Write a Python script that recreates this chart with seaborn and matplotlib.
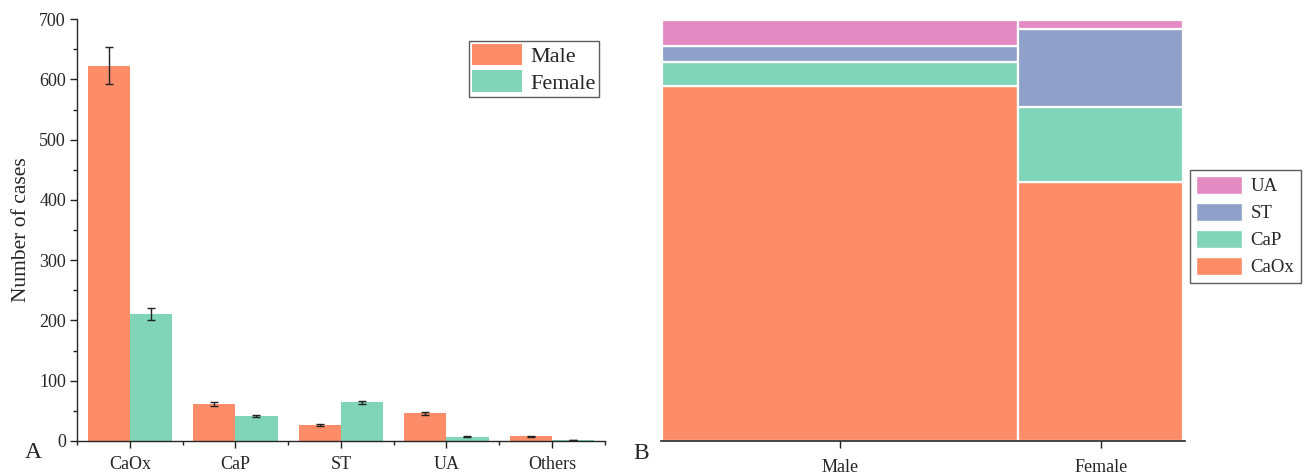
import numpy as np
import pandas as pd
import matplotlib
matplotlib.use("Agg")
import matplotlib.pyplot as plt
import seaborn as sns
from matplotlib.ticker import MultipleLocator, FixedLocator
from matplotlib.patches import Patch

# ---------------- data ----------------
stone_types = ["CaOx", "CaP", "ST", "UA", "Others"]
male_counts = [623, 61, 27, 46, 8]
female_counts = [211, 41, 64, 7, 2]
male_err = [31, 3.5, 1.5, 2.5, 0.6]
female_err = [10, 2, 3, 0.6, 0.4]

sexes = ["Male", "Female"]
mosaic_types = ["CaOx", "CaP", "ST", "UA"]
mosaic_male = [623, 42, 27, 46]
mosaic_female = [211, 61, 64, 7]

colors = {"CaOx": "#FD8C68", "CaP": "#80D4B7", "ST": "#8FA1C9", "UA": "#E38AC3"}
sex_colors = {"Male": "#FD8C68", "Female": "#80D4B7"}

# ---------------- style ----------------
sns.set_style("ticks")
plt.rcParams["font.family"] = ["Liberation Serif", "DejaVu Serif"]
plt.rcParams["axes.linewidth"] = 1.0

fig = plt.figure(figsize=(13.06, 4.75), dpi=100)
axA = fig.add_axes([0.059, 0.0716, 0.404, 0.888])
axB = fig.add_axes([0.506, 0.0716, 0.401, 0.886])

TICK_FS = 13

# ---------------- panel A ----------------
df = pd.DataFrame({
    "type": stone_types * 2,
    "count": male_counts + female_counts,
    "sex": ["Male"] * len(stone_types) + ["Female"] * len(stone_types),
})
sns.barplot(data=df, x="type", y="count", hue="sex", order=stone_types,
            hue_order=sexes, palette=sex_colors, errorbar=None, width=0.8,
            saturation=1, linewidth=0, ax=axA)

errs = {"Male": male_err, "Female": female_err}
for cont, sex in zip(axA.containers, sexes):
    xs = [b.get_x() + b.get_width() / 2 for b in cont]
    hs = [b.get_height() for b in cont]
    axA.errorbar(xs, hs, yerr=errs[sex], fmt="none", ecolor="#222222",
                 elinewidth=1, capsize=3, capthick=1, zorder=5)

axA.set_xlim(-0.5, 4.5)
axA.set_ylim(0, 700)
axA.yaxis.set_major_locator(MultipleLocator(100))
axA.yaxis.set_minor_locator(MultipleLocator(50))
axA.xaxis.set_minor_locator(FixedLocator([-0.5, 0.5, 1.5, 2.5, 3.5, 4.5]))
axA.tick_params(axis="y", which="major", direction="out", length=5,
                width=1, labelsize=TICK_FS, color="#222222", pad=3)
axA.tick_params(axis="x", which="major", direction="out", length=5,
                width=1, labelsize=TICK_FS, color="#222222", pad=6)
axA.tick_params(axis="both", which="minor", direction="out", length=3,
                width=1, color="#222222")
axA.set_xlabel("")
axA.set_ylabel("Number of cases", fontsize=15.5, labelpad=6)
sns.despine(ax=axA)

legA = axA.legend(loc="upper right", bbox_to_anchor=(0.997, 0.96),
                  fontsize=16, frameon=True, fancybox=False,
                  handlelength=2.25, handleheight=1.1, handletextpad=0.35,
                  borderpad=0.15, labelspacing=0.15, borderaxespad=0.2)
legA.get_frame().set_edgecolor("#333333")
legA.get_frame().set_linewidth(1.0)

# ---------------- panel B (mosaic) ----------------
totals = [sum(mosaic_male), sum(mosaic_female)]
grand = sum(totals)
widths = [t / grand for t in totals]
lefts = [0, widths[0]]
col_data = [mosaic_male, mosaic_female]
for j, sex in enumerate(sexes):
    bottom = 0.0
    for t, v in zip(mosaic_types, col_data[j]):
        frac = v / totals[j]
        axB.bar(lefts[j], frac, width=widths[j], bottom=bottom, align="edge",
                color=colors[t], edgecolor="white", linewidth=1.6)
        bottom += frac

axB.set_xlim(-0.002, 1.002)
axB.set_ylim(0, 1.0)
axB.set_xticks([lefts[j] + widths[j] / 2 for j in range(2)])
axB.set_xticklabels(sexes)
axB.set_yticks([])
axB.tick_params(axis="x", direction="out", length=5, width=1,
                labelsize=TICK_FS, color="#222222", pad=8)
for s in ["left", "right", "top"]:
    axB.spines[s].set_visible(False)
axB.spines["bottom"].set_linewidth(1.2)

handlesB = [Patch(facecolor=colors[t], edgecolor="white", label=t)
            for t in mosaic_types[::-1]]
legB = axB.legend(handles=handlesB, loc="center left",
                  bbox_to_anchor=(1.01, 0.51), fontsize=13.5, frameon=True,
                  fancybox=False, handlelength=2.45, handleheight=1.05,
                  handletextpad=0.45, borderpad=0.35, labelspacing=0.42,
                  borderaxespad=0.0)
legB.get_frame().set_edgecolor("#333333")
legB.get_frame().set_linewidth(1.0)

# panel labels
fig.text(0.019, 0.036, "A", fontsize=17, ha="left", va="baseline")
fig.text(0.485, 0.034, "B", fontsize=17, ha="left", va="baseline")

fig.savefig("out.png", dpi=100)
